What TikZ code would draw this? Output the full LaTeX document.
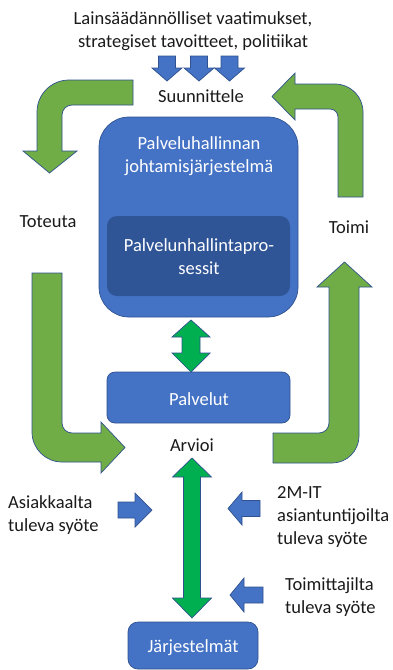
\documentclass[tikz,border=0pt]{standalone}
\usepackage{fontspec}
\setmainfont{Carlito}
\definecolor{offblue}{HTML}{4472C4}
\definecolor{lineblue}{HTML}{2F528F}
\definecolor{darkblue}{HTML}{2F5597}
\definecolor{leafgreen}{HTML}{70AD47}
\definecolor{brightgreen}{HTML}{00B050}
\definecolor{txt}{HTML}{1A1A1A}
\tikzset{
  lbl/.style={font=\fontsize{18.5}{23}\selectfont, text=txt, inner sep=0pt, align=left},
  lblc/.style={lbl, align=center},
  boxtxt/.style={font=\fontsize{18.5}{23}\selectfont, text=white, inner sep=0pt, align=center},
  bluearr/.style={fill=offblue, draw=lineblue, line width=0.7pt, line join=miter},
  greenarr/.style={fill=leafgreen, draw=lineblue, line width=0.7pt, line join=miter},
  brightarr/.style={fill=brightgreen, draw=lineblue, line width=0.7pt, line join=miter},
  mainbox/.style={fill=offblue, draw=lineblue, line width=0.7pt},
}
\begin{document}
\begin{tikzpicture}[x=1pt,y=-1pt]
\useasboundingbox (0,0) rectangle (393,670);
% title
\node[lblc] (title) at (193,31.5) {Lainsäädännölliset vaatimukset,\\strategiset tavoitteet, politiikat};
% small blue down arrows
\foreach \cx in {167,199,229.5}{
  \draw[bluearr] (\cx-8.5,56) -- (\cx+8.5,56) -- (\cx+8.5,68) -- (\cx+15,68) -- (\cx,81) -- (\cx-15,68) -- (\cx-8.5,68) -- cycle;
}
\node[lblc] (plan) at (201,96) {Suunnittele};
% top-left bent arrow
\draw[greenarr] (133,80) -- (69,80) .. controls (51.3,80) and (37,94.3) .. (37,112) -- (37,151) -- (23,151) -- (49.5,173) -- (77,151) -- (62,151) -- (62,115) .. controls (62,109.5) and (66.5,105) .. (72,105) -- (133,105) -- cycle;
% top-right bent arrow
\draw[greenarr] (272,96.5) -- (295,73) -- (295,84) -- (335,84) .. controls (350.5,84) and (363,96.5) .. (363,112) -- (363,197) -- (338,197) -- (338,117) .. controls (338,112.6) and (334.4,109) .. (330,109) -- (295,109) -- (295,120) -- cycle;
% bottom-left bent arrow
\draw[greenarr] (32,273) -- (62,273) -- (62,423) .. controls (62,428.5) and (66.5,433) .. (72,433) -- (101,433) -- (101,422) -- (125,447.5) -- (101,473) -- (101,462) -- (62,462) .. controls (45.4,462) and (32,448.6) .. (32,432) -- cycle;
% bottom-right bent arrow
\draw[greenarr] (344.5,262) -- (372,287) -- (359,287) -- (359,436) .. controls (359,450.9) and (346.9,463) .. (332,463) -- (273,463) -- (273,433) -- (319,433) .. controls (324.5,433) and (329,428.5) .. (329,423) -- (329,287) -- (317,287) -- cycle;
\node[lblc] (do) at (48,222) {Toteuta};
\node[lblc] (act) at (349,227) {Toimi};
% main box
\draw[mainbox, rounded corners=30pt] (99,117) rectangle (298,317);
\node[boxtxt] (sms) at (199,156.5) {Palveluhallinnan\\johtamisjärjestelmä};
\fill[darkblue, rounded corners=10pt] (107,216) rectangle (290,296);
\node[boxtxt] (proc) at (199,257) {Palvelunhallintapro-\\sessit};
% small double arrow
\draw[brightarr] (191,320) -- (210,337) -- (200,337) -- (200,353) -- (210,353) -- (191,372) -- (172,353) -- (182,353) -- (182,337) -- (172,337) -- cycle;
% services box
\draw[mainbox, rounded corners=8pt] (107,372) rectangle (290,423);
\node[boxtxt] (serv) at (199,399) {Palvelut};
\node[lblc] (check) at (192,445) {Arvioi};
% big double arrow
\draw[brightarr] (192,458) -- (211.5,477) -- (200.5,477) -- (200.5,598) -- (211.5,598) -- (192,618) -- (172.5,598) -- (183.5,598) -- (183.5,477) -- (172.5,477) -- cycle;
% input arrows
\draw[bluearr] (118,502) -- (135,502) -- (135,493) -- (152,510) -- (135,527) -- (135,518) -- (118,518) -- cycle;
\draw[bluearr] (228,508.5) -- (242,492) -- (242,500.5) -- (260,500.5) -- (260,516.5) -- (242,516.5) -- (242,525) -- cycle;
\draw[bluearr] (230,595) -- (244,578) -- (244,587) -- (263,587) -- (263,603) -- (244,603) -- (244,612) -- cycle;
\node[lbl, anchor=west] (cust) at (8,515) {Asiakkaalta\\tuleva syöte};
\node[lbl, anchor=west] (expert) at (277,517) {2M-IT\\asiantuntijoilta\\tuleva syöte};
\node[lbl, anchor=west] (supp) at (285,597.5) {Toimittajilta\\tuleva syöte};
% systems box
\draw[mainbox, rounded corners=10pt] (128,622) rectangle (258,669);
\node[boxtxt] (sys) at (193,648) {Järjestelmät};
\end{tikzpicture}
\end{document}
